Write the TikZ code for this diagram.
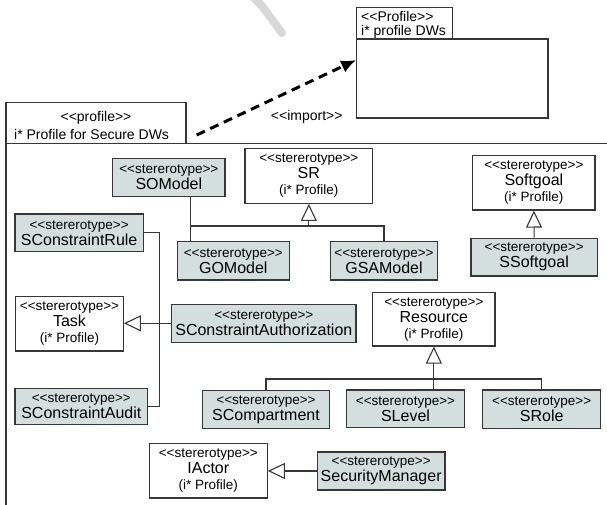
\documentclass[tikz,border=0pt]{standalone}
\usepackage{fontspec}
\setmainfont{Liberation Sans}[Ligatures=TeXOff]
\usetikzlibrary{arrows.meta}
\definecolor{stfill}{RGB}{212,222,222}
\definecolor{edge}{RGB}{55,55,55}
\definecolor{faintgray}{RGB}{215,215,215}
\newcommand\stlabel{{\fontsize{13.5}{16}\selectfont <<stererotype>>}}
\newcommand\nm[1]{{\fontsize{16}{16}\selectfont #1}}
\newcommand\istar{{\fontsize{13.5}{16}\selectfont (i* Profile)}}
\tikzset{
  base/.style={draw=edge, line width=1.2pt, inner sep=0pt, align=center,
    font=\fontsize{14}{16}\selectfont},
  plain/.style={base, fill=white},
  shaded/.style={base, fill=stfill},
  conn/.style={draw=edge, line width=1.1pt},
  gen/.style={conn, -{Triangle[open, length=17pt, width=16pt, line width=1.1pt]}},
  txt/.style={inner sep=0pt, font=\fontsize{14}{16}\selectfont},
}
\begin{document}
\begin{tikzpicture}[x=1pt, y=-1pt]
\useasboundingbox (0,0) rectangle (607,505);

% faint stroke in the top margin
\draw[faintgray, line width=8pt, line cap=round] (252,-4) -- (262,6) -- (282,33);

% imported profile package
\draw[edge, line width=1.1pt] (356.7,7.3) rectangle (452.7,39);
\node[draw=edge, line width=1.1pt, minimum width=191.3pt, minimum height=79pt, inner sep=0pt]
  (dws) at (452.35,78.5) {};
\node[txt, anchor=west] (dwsst) at (361,16) {<<Profile>>};
\node[txt, anchor=west] (dwsname) at (361,32) {i* profile DWs};

% package frame of the secure profile
\draw[edge, line width=1.1pt] (6,505) -- (6,102.7) -- (186,102.7) -- (186,143.3);
\draw[edge, line width=1.1pt] (6,143.3) -- (607,143.3);
\node[txt] (pst) at (96,118) {<<profile>>};
\node[txt, anchor=west] (pname) at (14,134) {i* Profile for Secure DWs};

% import dependency
\coordinate (imps) at (196.7,135);
\coordinate (impe) at (356.2,60);
\draw[black, line width=3pt, dash pattern=on 9pt off 6pt,
  -{Latex[length=15pt, width=13pt]}] (imps) -- (impe);
\node[txt] (implabel) at (306.7,117) {<<import>>};

% stereotypes
\node[plain, minimum width=127.7pt, minimum height=55pt] (SR) at (308.85,175.8)
  {\stlabel\\\nm{SR}\\\istar};
\node[shaded, minimum width=112.3pt, minimum height=38.4pt] (SOModel) at (168.85,177.5)
  {\stlabel\\\nm{SOModel}};
\node[shaded, minimum width=112pt, minimum height=38.3pt] (GOModel) at (233.3,260.85)
  {\stlabel\\\nm{GOModel}};
\node[shaded, minimum width=106.6pt, minimum height=38.3pt] (GSAModel) at (384,260.85)
  {\stlabel\\\nm{GSAModel}};
\node[plain, minimum width=122.3pt, minimum height=54.3pt] (Softgoal) at (533.85,182.85)
  {\stlabel\\\nm{Softgoal}\\\istar};
\node[shaded, minimum width=126.3pt, minimum height=37.7pt] (SSoftgoal) at (534.15,257.15)
  {\stlabel\\\nm{SSoftgoal}};
\node[shaded, minimum width=128.3pt, minimum height=37.7pt] (SCRule) at (79.15,232.85)
  {\stlabel\\\nm{SConstraintRule}};
\node[plain, minimum width=107.6pt, minimum height=54.3pt] (Task) at (69.5,323.85)
  {\stlabel\\\nm{Task}\\\istar};
\node[shaded, minimum width=184.3pt, minimum height=38pt] (SCAuth) at (263.85,323.3)
  {\stlabel\\\nm{SConstraintAuthorization}};
\node[shaded, minimum width=132.7pt, minimum height=36pt] (SCAudit) at (81.35,406.3)
  {\stlabel\\\nm{SConstraintAudit}};
\node[plain, minimum width=122.3pt, minimum height=53.3pt] (Resource) at (433.85,319.35)
  {\stlabel\\\nm{Resource}\\\istar};
\node[shaded, minimum width=126.6pt, minimum height=37.6pt] (SComp) at (266,409.5)
  {\stlabel\\\nm{SCompartment}};
\node[shaded, minimum width=117.6pt, minimum height=37.7pt] (SLevel) at (405.5,408.85)
  {\stlabel\\\nm{SLevel}};
\node[shaded, minimum width=118pt, minimum height=38.7pt] (SRole) at (541.7,409.35)
  {\stlabel\\\nm{SRole}};
\node[plain, minimum width=118pt, minimum height=54.7pt] (IActor) at (208.3,470.65)
  {\stlabel\\\nm{IActor}\\\istar};
\node[shaded, minimum width=127.7pt, minimum height=38pt] (SecMgr) at (381.15,471)
  {\stlabel\\\nm{SecurityManager}};

% SR specialisations
\coordinate (srj) at (190.7,226);
\coordinate (srm) at (SR.south |- srj);
\draw[conn] (SOModel.south -| srj) -- (GOModel.north -| srj);
\draw[conn] (srj) -- (srm) -| (GSAModel.north);
\draw[gen] (srm) -- (SR.south);

% Softgoal specialisation
\draw[gen] (SSoftgoal.north) -- (Softgoal.south);

% Task specialisations
\coordinate (tj) at (159.3,323.5);
\draw[conn] (SCRule.east) -| (tj);
\draw[conn] (SCAudit.east) -| (tj);
\draw[gen] (SCAuth.west) -- (Task.east |- SCAuth.west);

% Resource specialisations
\coordinate (rj) at (Resource.south |- 0,379);
\draw[conn] (SComp.north) |- (rj) -| (SRole.north);
\draw[gen] (SLevel.north -| rj) -- (Resource.south);

% IActor specialisation
\draw[gen] (SecMgr.west) -- (IActor.east |- SecMgr.west);
\end{tikzpicture}
\end{document}
